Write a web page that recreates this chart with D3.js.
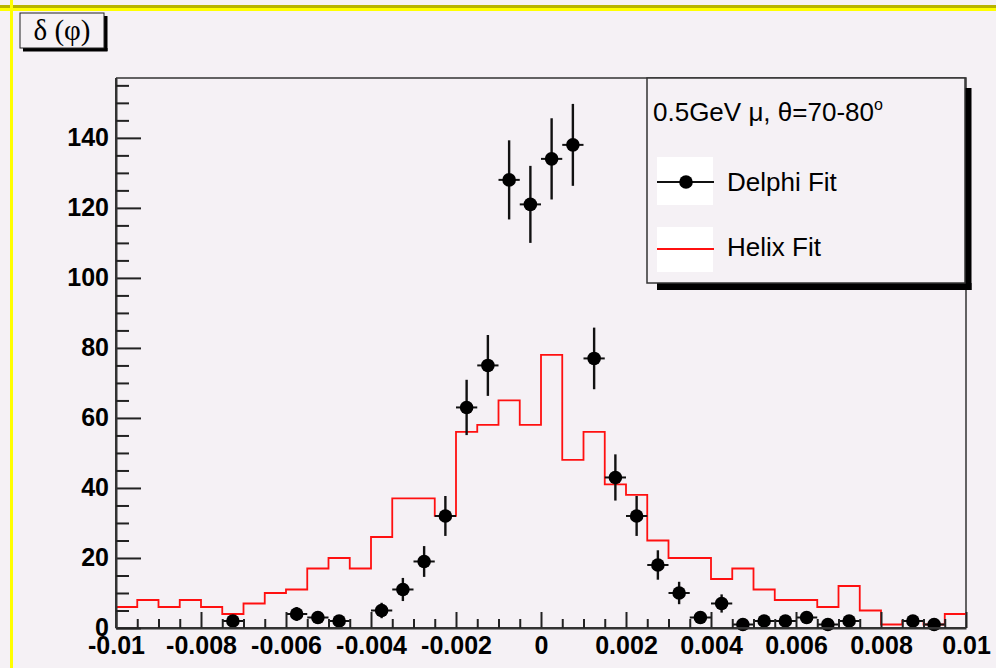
<!DOCTYPE html>
<html>
<head>
<meta charset="utf-8">
<script src="https://cdn.jsdelivr.net/npm/d3@7"></script>
<style>
  html, body { margin: 0; padding: 0; background: #f5f1f5; }
  svg { display: block; }
</style>
</head>
<body>
<svg id="chart" width="996" height="668"></svg>
<script>
// ---------------- data ----------------
const binCenters = [
  -0.00975, -0.00925, -0.00875, -0.00825, -0.00775, -0.00725, -0.00675, -0.00625, -0.00575, -0.00525,
  -0.00475, -0.00425, -0.00375, -0.00325, -0.00275, -0.00225, -0.00175, -0.00125, -0.00075, -0.00025,
   0.00025,  0.00075,  0.00125,  0.00175,  0.00225,  0.00275,  0.00325,  0.00375,  0.00425,  0.00475,
   0.00525,  0.00575,  0.00625,  0.00675,  0.00725,  0.00775,  0.00825,  0.00875,  0.00925,  0.00975
];
const binWidth = 0.0005;
const helixCounts = [
  6, 8, 6, 8, 6, 4, 7, 10, 11, 17,
  20, 17, 26, 37, 37, 32, 56, 58, 65, 58,
  78, 48, 56, 41, 38, 25, 20, 20, 14, 17,
  11, 8, 8, 6, 12, 5, 1, 2, 1, 4
];
const delphiCounts = [
  0, 0, 0, 0, 0, 2, 0, 0, 4, 3,
  2, 0, 5, 11, 19, 32, 63, 75, 128, 121,
  134, 138, 77, 43, 32, 18, 10, 3, 7, 1,
  2, 2, 3, 1, 2, 0, 0, 2, 1, 0
];
const delphiErrors = [
  0, 0, 0, 0, 0, 1.4, 0, 0, 2.0, 1.7,
  1.4, 0, 2.2, 3.3, 4.4, 5.7, 7.9, 8.7, 11.3, 11.0,
  11.6, 11.7, 8.8, 6.6, 5.7, 4.2, 3.2, 1.7, 2.6, 1.0,
  1.4, 1.4, 1.7, 1.0, 1.4, 0, 0, 1.4, 1.0, 0
];
const xTickValues = [-0.01, -0.008, -0.006, -0.004, -0.002, 0, 0.002, 0.004, 0.006, 0.008, 0.01];
const xTickLabels = ["-0.01", "-0.008", "-0.006", "-0.004", "-0.002", "0", "0.002", "0.004", "0.006", "0.008", "0.01"];
const xMinorTicks = [
  -0.0095, -0.009, -0.0085, -0.0075, -0.007, -0.0065, -0.0055, -0.005, -0.0045, -0.0035, -0.003, -0.0025,
  -0.0015, -0.001, -0.0005, 0.0005, 0.001, 0.0015, 0.0025, 0.003, 0.0035, 0.0045, 0.005, 0.0055,
  0.0065, 0.007, 0.0075, 0.0085, 0.009, 0.0095
];
const yTickValues = [0, 20, 40, 60, 80, 100, 120, 140];
const yMinorTicks = [5, 10, 15, 25, 30, 35, 45, 50, 55, 65, 70, 75, 85, 90, 95, 105, 110, 115, 125, 130, 135, 145, 150, 155];
const xDomain = [-0.01, 0.01];
const yDomain = [0, 157.1];
const legendTitle = "0.5GeV μ, θ=70-80";
const legendLabels = ["Delphi Fit", "Helix Fit"];
const histTitle = "δ (φ)";

// ---------------- drawing ----------------
const svg = d3.select("#chart");
const W = 996, H = 668;
const L = 116, R = 966, T = 78, B = 628;

svg.append("rect").attr("width", W).attr("height", H).attr("fill", "#f5f1f5");
// canvas edge lines
svg.append("rect").attr("x", 0).attr("y", 5).attr("width", W).attr("height", 3).attr("fill", "#b8b400");
svg.append("rect").attr("x", 0).attr("y", 8).attr("width", W).attr("height", 3).attr("fill", "#ffff00");
svg.append("rect").attr("x", 10).attr("y", 0).attr("width", 3).attr("height", H).attr("fill", "#ffff00");

const x = d3.scaleLinear().domain(xDomain).range([L, R]);
const y = d3.scaleLinear().domain(yDomain).range([B, T]);

// frame top/right
svg.append("path")
  .attr("d", `M${L},${T}H${R}V${B}`)
  .attr("fill", "none").attr("stroke", "#333").attr("stroke-width", 1.5);

// Helix histogram (red step line)
const stepPts = binCenters.map((c, i) => [c - binWidth / 2, helixCounts[i]]);
stepPts.push([binCenters[binCenters.length - 1] + binWidth / 2, helixCounts[helixCounts.length - 1]]);
svg.append("path")
  .datum(stepPts)
  .attr("fill", "none")
  .attr("stroke", "#ff1010")
  .attr("stroke-width", 1.8)
  .attr("d", d3.line().x(d => x(d[0])).y(d => y(d[1])).curve(d3.curveStepAfter));

// Delphi points with error bars
const pts = binCenters.map((c, i) => ({ c, v: delphiCounts[i], e: delphiErrors[i] })).filter(d => d.v > 0);
const g = svg.append("g");
g.selectAll("line.ev").data(pts).join("line")
  .attr("x1", d => x(d.c)).attr("x2", d => x(d.c))
  .attr("y1", d => y(Math.max(0, d.v - d.e))).attr("y2", d => y(d.v + d.e))
  .attr("stroke", "#111").attr("stroke-width", 2.4);
g.selectAll("line.eh").data(pts).join("line")
  .attr("x1", d => x(d.c - binWidth / 2)).attr("x2", d => x(d.c + binWidth / 2))
  .attr("y1", d => y(d.v)).attr("y2", d => y(d.v))
  .attr("stroke", "#111").attr("stroke-width", 2);
g.selectAll("circle").data(pts).join("circle")
  .attr("cx", d => x(d.c)).attr("cy", d => y(d.v)).attr("r", 6.8)
  .attr("fill", "#000");

// Axes
const axisFont = "'Liberation Sans', Arial, Helvetica, sans-serif";
const xAxis = svg.append("g").attr("transform", `translate(0,${B})`)
  .call(d3.axisBottom(x).tickValues(xTickValues)
    .tickFormat((d, i) => xTickLabels[i])
    .tickSizeInner(-16).tickSizeOuter(0).tickPadding(8));
const xMinor = svg.append("g").attr("transform", `translate(0,${B})`)
  .call(d3.axisBottom(x).tickValues(xMinorTicks).tickFormat("").tickSizeInner(-9).tickSizeOuter(0));
const yAxis = svg.append("g").attr("transform", `translate(${L},0)`)
  .call(d3.axisLeft(y).tickValues(yTickValues).tickFormat(d3.format("d"))
    .tickSizeInner(-25).tickSizeOuter(0).tickPadding(7));
const yMinor = svg.append("g").attr("transform", `translate(${L},0)`)
  .call(d3.axisLeft(y).tickValues(yMinorTicks).tickFormat("").tickSizeInner(-13).tickSizeOuter(0));

[xAxis, xMinor, yAxis, yMinor].forEach(a => {
  a.selectAll("path.domain").attr("stroke", "#333").attr("stroke-width", 2);
  a.selectAll(".tick line").attr("stroke", "#222").attr("stroke-width", 2);
  a.selectAll("text").attr("font-family", axisFont).attr("font-size", 25)
    .attr("font-weight", "bold").attr("fill", "#000");
});
yAxis.selectAll("text").attr("dy", "0.3em");
yAxis.select("path.domain").attr("d", `M0,${T}V${B}`);
xAxis.select("path.domain").attr("d", `M${L},0H${R}`);

// Title box
svg.append("rect").attr("x", 104).attr("y", 16).attr("width", 3.5).attr("height", 35).attr("fill", "#000");
svg.append("rect").attr("x", 23).attr("y", 48).attr("width", 84.5).attr("height", 3.5).attr("fill", "#000");
svg.append("rect").attr("x", 20).attr("y", 13).attr("width", 84).attr("height", 35)
  .attr("fill", "#f5f1f5").attr("stroke", "#222").attr("stroke-width", 1);
svg.append("text").attr("x", 62).attr("y", 40)
  .attr("text-anchor", "middle")
  .attr("font-family", "'Liberation Serif', 'Times New Roman', serif")
  .attr("font-size", 29).attr("fill", "#000")
  .text(histTitle);

// Legend
const lg = svg.append("g");
lg.append("rect").attr("x", 965).attr("y", 88).attr("width", 6.5).attr("height", 202).attr("fill", "#000");
lg.append("rect").attr("x", 657).attr("y", 283).attr("width", 314.5).attr("height", 7).attr("fill", "#000");
lg.append("rect").attr("x", 647).attr("y", 78).attr("width", 318).attr("height", 205)
  .attr("fill", "#f5f1f5").attr("stroke", "#333").attr("stroke-width", 1.5);
// title
const tt = lg.append("text").attr("x", 653).attr("y", 121)
  .attr("font-family", axisFont).attr("font-size", 26).attr("fill", "#000");
tt.append("tspan").text(legendTitle);
tt.append("tspan").attr("font-size", 16).attr("dy", -11).text("o");
// entry boxes
lg.append("rect").attr("x", 657).attr("y", 157).attr("width", 56).attr("height", 48).attr("fill", "#fff");
lg.append("rect").attr("x", 657).attr("y", 227).attr("width", 56).attr("height", 45).attr("fill", "#fff");
lg.append("line").attr("x1", 657).attr("x2", 714).attr("y1", 182).attr("y2", 182)
  .attr("stroke", "#111").attr("stroke-width", 2);
lg.append("circle").attr("cx", 686).attr("cy", 182).attr("r", 6.8).attr("fill", "#000");
lg.append("line").attr("x1", 657).attr("x2", 714).attr("y1", 249).attr("y2", 249)
  .attr("stroke", "#ff1010").attr("stroke-width", 1.8);
lg.selectAll("text.lab").data(legendLabels).join("text")
  .attr("class", "lab")
  .attr("x", 727).attr("y", (d, i) => i === 0 ? 191 : 256)
  .attr("font-family", axisFont).attr("font-size", 26).attr("fill", "#000")
  .text(d => d);
</script>
</body>
</html>
